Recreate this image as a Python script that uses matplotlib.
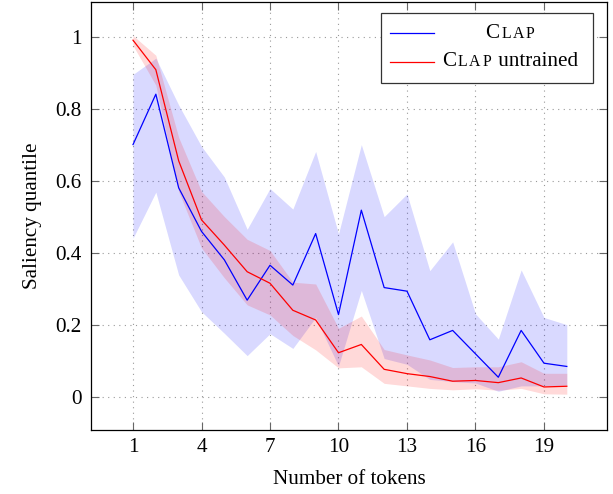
import matplotlib
matplotlib.use("Agg")
import matplotlib.pyplot as plt
from matplotlib.offsetbox import TextArea, HPacker, AnnotationBbox
from matplotlib.patches import Rectangle
from matplotlib.lines import Line2D

plt.rcParams['font.family'] = ['Liberation Serif', 'DejaVu Serif']
plt.rcParams['mathtext.fontset'] = 'stix'

tokens = list(range(1, 21))

clap_mean = [0.70, 0.84, 0.580, 0.459, 0.380, 0.268, 0.365, 0.310, 0.453, 0.228,
             0.518, 0.303, 0.293, 0.158, 0.184, 0.119, 0.054, 0.184, 0.093, 0.084]
clap_upper = [0.895, 0.940, 0.810, 0.695, 0.610, 0.465, 0.578, 0.521, 0.681, 0.452,
              0.700, 0.500, 0.563, 0.350, 0.430, 0.230, 0.160, 0.352, 0.220, 0.200]
clap_lower = [0.440, 0.568, 0.338, 0.236, 0.176, 0.114, 0.175, 0.134, 0.220, 0.085,
              0.295, 0.106, 0.090, 0.048, 0.042, 0.038, 0.015, 0.030, 0.030, 0.032]

untr_mean = [0.990, 0.908, 0.655, 0.491, 0.421, 0.347, 0.315, 0.240, 0.213, 0.122,
             0.145, 0.076, 0.064, 0.056, 0.043, 0.045, 0.039, 0.052, 0.027, 0.029]
untr_upper = [1.003, 0.948, 0.720, 0.570, 0.500, 0.437, 0.406, 0.318, 0.313, 0.190,
              0.224, 0.131, 0.116, 0.102, 0.081, 0.083, 0.083, 0.097, 0.065, 0.065]
untr_lower = [0.975, 0.865, 0.570, 0.413, 0.330, 0.255, 0.227, 0.170, 0.130, 0.080,
              0.083, 0.037, 0.030, 0.023, 0.019, 0.022, 0.018, 0.023, 0.008, 0.007]

xticks = [1, 4, 7, 10, 13, 16, 19]
yticks = [0, 0.2, 0.4, 0.6, 0.8, 1.0]
ytick_labels = ["0", "0.2", "0.4", "0.6", "0.8", "1"]

W, H = 613, 494
fig = plt.figure(figsize=(W / 100, H / 100), dpi=100)
L, R, T, B = 91, 607, 2, 430
ax = fig.add_axes([L / W, (H - B) / H, (R - L) / W, (B - T) / H])

FS = 15.2   # ~21 px
FS_SMALL = 11.4

ax.fill_between(tokens, clap_lower, clap_upper, color=(0, 0, 1), alpha=0.15, lw=0, zorder=2)
ax.fill_between(tokens, untr_lower, untr_upper, color=(1, 0, 0), alpha=0.15, lw=0, zorder=2)
ax.plot(tokens, clap_mean, color=(0, 0, 1), lw=0.9, zorder=3)
ax.plot(tokens, untr_mean, color=(1, 0, 0), lw=0.9, zorder=3)

ax.set_xlim(-0.84, 21.76)
ax.set_ylim(-0.0925, 1.096)
ax.set_xticks(xticks)
ax.set_xticklabels([str(t) for t in xticks])
ax.set_yticks(yticks)
ax.set_yticklabels(ytick_labels)
ax.tick_params(direction='in', length=6, width=0.8, color='#666666',
               top=True, right=True, labelsize=FS)
ax.tick_params(axis='y', pad=7)
ax.tick_params(axis='x', pad=6)
ax.grid(True, color='#999999', lw=0.8, linestyle=(0, (1, 4)), zorder=1)
ax.set_axisbelow(True)
for s in ax.spines.values():
    s.set_linewidth(0.9)
    s.set_color('black')

ax.set_xlabel("Number of tokens", fontsize=FS, labelpad=9)
ax.set_ylabel("Saliency quantile", fontsize=FS, labelpad=9)

# legend drawn manually (small caps label)
def ax_x(px):
    return (px - L) / (R - L)

def ax_y(py):
    return (B - py) / (B - T)

ax.add_patch(Rectangle((ax_x(381), ax_y(83)), ax_x(593) - ax_x(381), ax_y(13) - ax_y(83),
                       transform=ax.transAxes, facecolor='white', edgecolor='#333333',
                       lw=0.9, zorder=5))
rows = [(ax_y(33), (0, 0, 1), ""), (ax_y(62), (1, 0, 0), " untrained")]
big = dict(fontsize=FS, color='black')
small = dict(fontsize=FS_SMALL, color='black')
for yy, col, suffix in rows:
    ax.add_line(Line2D([ax_x(390), ax_x(434)], [yy, yy], transform=ax.transAxes,
                       color=col, lw=0.9, zorder=6))
    parts = [TextArea("C", textprops=big)]
    for ch in "LAP":
        parts.append(TextArea(ch, textprops=small))
    if suffix:
        parts.append(TextArea(suffix, textprops=big))
    box = HPacker(children=parts, align="baseline", pad=0, sep=1.2)
    ab = AnnotationBbox(box, (ax_x(510), yy), xycoords=ax.transAxes, frameon=False,
                        box_alignment=(0.5, 0.5), zorder=7)
    ax.add_artist(ab)

fig.savefig("out.png", dpi=100)
